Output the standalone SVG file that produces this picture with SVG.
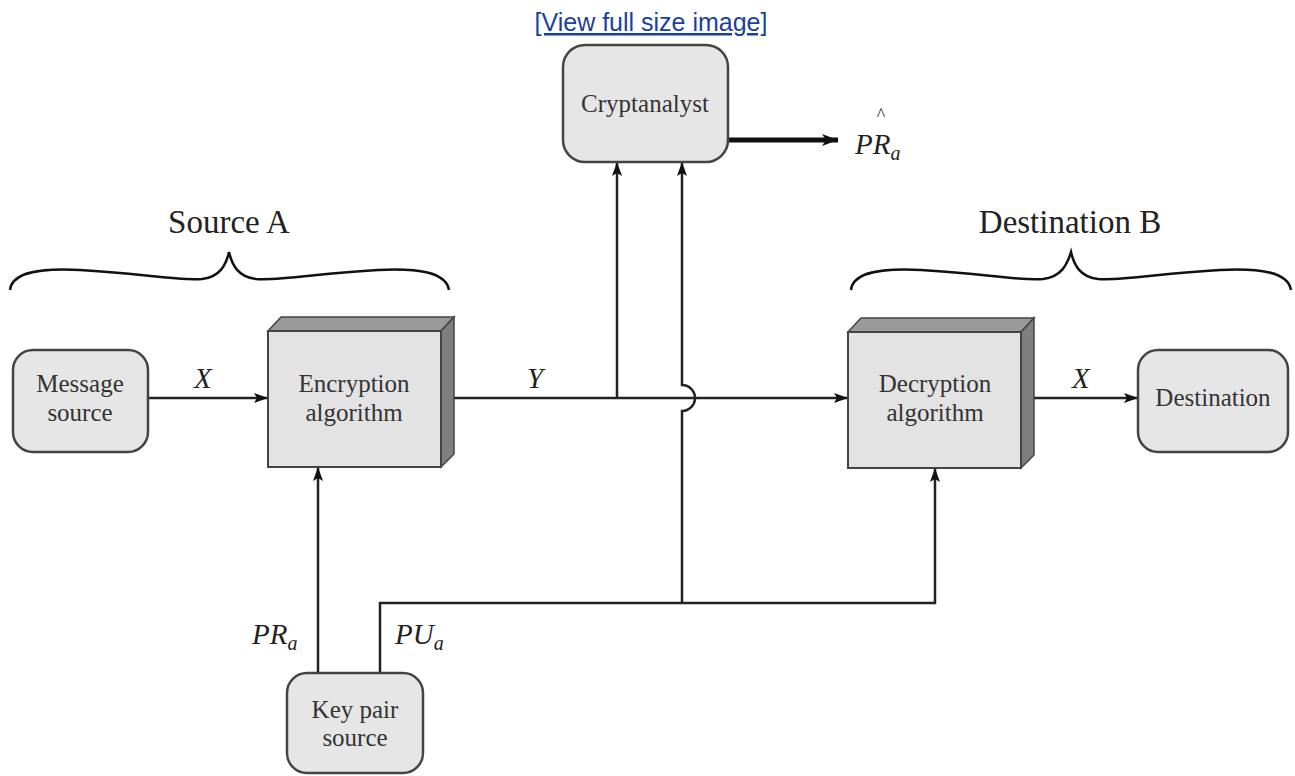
<svg xmlns="http://www.w3.org/2000/svg" width="1295" height="776" viewBox="0 0 1295 776">
<defs>
<marker id="ah" viewBox="0 0 14 10" refX="14" refY="5" markerWidth="14" markerHeight="10" markerUnits="userSpaceOnUse" orient="auto"><path d="M0,0 L14,5 L0,10 L3,5 Z" fill="#111"/></marker>
<marker id="ahb" viewBox="0 0 16 12" refX="16" refY="6" markerWidth="16" markerHeight="12" markerUnits="userSpaceOnUse" orient="auto"><path d="M0,0 L16,6 L0,12 L4,6 Z" fill="#111"/></marker>
<style>
.rbox{fill:#e6e6e6;stroke:#444;stroke-width:2.5}
.front{fill:#e3e3e3;stroke:#444;stroke-width:2}
.top{fill:#9a9a9a;stroke:#444;stroke-width:1.5}
.side{fill:#7f7f7f;stroke:#444;stroke-width:1.5}
.t{font-family:"Liberation Serif","Times New Roman","DejaVu Serif",serif;font-size:25px;fill:#333;text-anchor:middle}
.h{font-family:"Liberation Serif","Times New Roman","DejaVu Serif",serif;font-size:33px;fill:#222;text-anchor:middle}
.m{font-family:"Liberation Serif","Times New Roman","DejaVu Serif",serif;font-style:italic;font-size:29px;fill:#222}
.s{font-size:20px}
.ln{fill:none;stroke:#222;stroke-width:2.5}
.br{fill:none;stroke:#111;stroke-width:2.5}
</style>
</defs>
<rect width="1295" height="776" fill="#fff"/>
<text x="651" y="31" font-family="Liberation Sans,Arial,sans-serif" font-size="25" fill="#1b3fa0" text-anchor="middle" text-decoration="underline">[View full size image]</text>

<g id="labels">
<text class="h" x="229" y="233">Source A</text>
<text class="h" x="1070" y="233">Destination B</text>
<path class="br" d="M10,290 C12,272 40,268 80,270 C140,273 175,281 202,279 C220,277 226,265 229,252 C232,265 238,277 256,279 C283,281 318,273 378,270 C418,268 446,272 449,290"/>
<path class="br" d="M851,290 C853,272 881,268 921,270 C981,273 1016,281 1043,279 C1061,277 1067,265 1071,252 C1074,265 1080,277 1098,279 C1125,281 1160,273 1220,270 C1260,268 1288,272 1291,290"/>
</g>

<g id="connectors">
<line class="ln" x1="148" y1="398" x2="268" y2="398" marker-end="url(#ah)"/>
<line class="ln" x1="454" y1="398" x2="848" y2="398" marker-end="url(#ah)"/>
<line class="ln" x1="617" y1="398" x2="617" y2="162" marker-end="url(#ah)"/>
<path class="ln" d="M682,603 V411 A13,13 0 0 0 682,385 V162" marker-end="url(#ah)"/>
<line class="ln" x1="1033" y1="398" x2="1138" y2="398" marker-end="url(#ah)"/>
<line class="ln" x1="318" y1="673" x2="318" y2="467" marker-end="url(#ah)"/>
<path class="ln" d="M380,673 V603 H935 V468" marker-end="url(#ah)"/>
<line x1="728" y1="140" x2="838" y2="140" stroke="#111" stroke-width="5" marker-end="url(#ahb)"/>
<text class="m" x="194" y="388">X</text>
<text class="m" x="527" y="388">Y</text>
<text class="m" x="1072" y="388">X</text>
<text class="m" x="252" y="644">PR<tspan class="s" dy="6">a</tspan></text>
<text class="m" x="395" y="644">PU<tspan class="s" dy="6">a</tspan></text>
<text class="m" x="855" y="154">PR<tspan class="s" dy="6">a</tspan></text>
<text x="881" y="121" font-family="Liberation Serif,serif" font-size="18" fill="#222" text-anchor="middle">^</text>
</g>

<g id="cryptanalyst">
<rect class="rbox" x="563" y="45" width="165" height="117" rx="22"/>
<text class="t" x="645" y="112">Cryptanalyst</text>
</g>

<g id="message-source">
<rect class="rbox" x="13" y="350" width="135" height="102" rx="20"/>
<text class="t" x="80" y="392">Message</text>
<text class="t" x="80" y="421">source</text>
</g>

<g id="encryption">
<path class="top" d="M268,331 L281,317 H454 L441,331 Z"/>
<path class="side" d="M441,331 L454,317 V454 L441,467 Z"/>
<rect class="front" x="268" y="331" width="173" height="136"/>
<text class="t" x="354" y="392">Encryption</text>
<text class="t" x="354" y="421">algorithm</text>
</g>

<g id="decryption">
<path class="top" d="M848,332 L861,318 H1034 L1021,332 Z"/>
<path class="side" d="M1021,332 L1034,318 V455 L1021,468 Z"/>
<rect class="front" x="848" y="332" width="173" height="136"/>
<text class="t" x="935" y="392">Decryption</text>
<text class="t" x="935" y="421">algorithm</text>
</g>

<g id="destination">
<rect class="rbox" x="1138" y="350" width="150" height="102" rx="20"/>
<text class="t" x="1213" y="406">Destination</text>
</g>

<g id="key-pair-source">
<rect class="rbox" x="287" y="673" width="136" height="100" rx="20"/>
<text class="t" x="355" y="718">Key pair</text>
<text class="t" x="355" y="746">source</text>
</g>
</svg>
